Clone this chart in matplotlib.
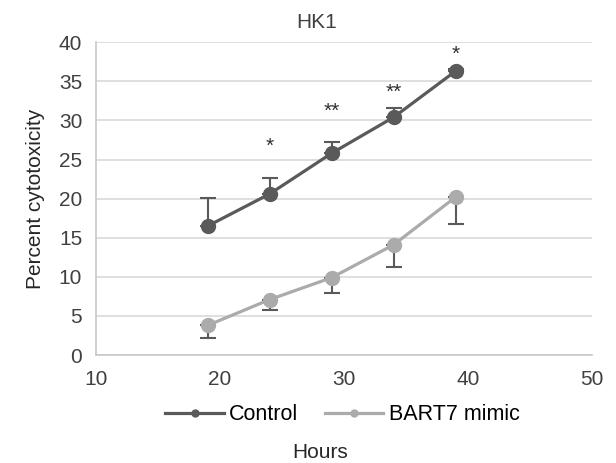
import numpy as np
import matplotlib
matplotlib.use('Agg')
import matplotlib.pyplot as plt

plt.rcParams['font.family'] = ['Liberation Sans', 'DejaVu Sans']

hours = [19, 24, 29, 34, 39]
control = [16.5, 20.6, 25.8, 30.4, 36.3]
control_err = [3.6, 2.0, 1.4, 1.2, 0.3]
mimic = [3.8, 7.1, 9.9, 14.1, 20.2]
mimic_err = [1.6, 1.35, 2.0, 2.8, 3.5]
stars = ['', '*', '**', '**', '*']
star_y = [0, 26.7, 31.2, 33.6, 38.5]

dark = '#5a5a5a'
light = '#ababab'
fs = 15

fig = plt.figure(figsize=(6.16, 4.63), dpi=100)
ax = fig.add_axes([0.156, 0.233, 0.805, 0.676])

zeros = [0] * len(hours)
ax.errorbar(hours, control, yerr=[zeros, control_err], fmt='none',
            ecolor=dark, elinewidth=1.5, capsize=6, capthick=1.5, zorder=2)
ax.errorbar(hours, mimic, yerr=[mimic_err, zeros], fmt='none',
            ecolor=dark, elinewidth=1.5, capsize=6, capthick=1.5, zorder=2)
ax.plot(hours, control, color=dark, lw=2.3, marker='o', ms=10, label='Control', zorder=3)
ax.plot(hours, mimic, color=light, lw=2.3, marker='o', ms=10, label='BART7 mimic', zorder=3)

for h, s, y in zip(hours, stars, star_y):
    if s:
        ax.text(h, y, s, ha='center', va='center', fontsize=15, color='#303030')

ax.set_xlim(10, 50)
ax.set_ylim(0, 40)
ax.set_xticks(np.arange(10, 51, 10))
ax.set_yticks(np.arange(0, 41, 5))
ax.grid(axis='y', color='#d9d9d9', lw=1.2)
ax.set_axisbelow(True)
for side in ['top', 'right']:
    ax.spines[side].set_visible(False)
for side in ['left', 'bottom']:
    ax.spines[side].set_color('#c8c8c8')
    ax.spines[side].set_linewidth(1.2)
ax.tick_params(length=0, labelsize=fs, colors='#404040')
ax.tick_params(axis='y', pad=10)
ax.tick_params(axis='x', pad=11)

fig.text(317 / 616, 0.952, 'HK1', ha='center', va='center',
         fontsize=fs, color='#404040')
ax.set_ylabel('Percent cytotoxicity', fontsize=fs, color='#262626', labelpad=10)
ax.set_xlabel('Hours', fontsize=fs, color='#262626', va='center')
ax.xaxis.set_label_coords(0.452, -0.31)

ax.legend(loc='center', bbox_to_anchor=(0.556, 1 - 415 / 463),
          bbox_transform=fig.transFigure, ncol=2, frameon=False,
          fontsize=15.5, handlelength=2.7, columnspacing=1.25, handletextpad=0.25,
          markerscale=0.5, borderpad=0)

fig.savefig('out.png', dpi=100)
